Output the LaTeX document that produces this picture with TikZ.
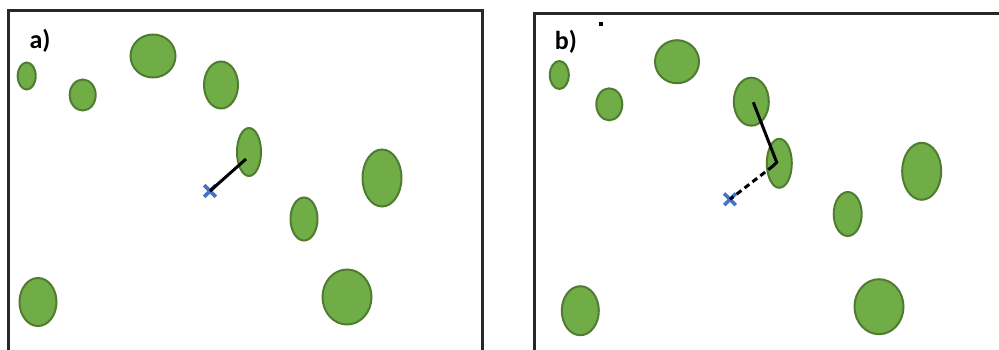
\documentclass[tikz,border=0pt]{standalone}
\usepackage{fontspec}
\setmainfont{Carlito}
\usetikzlibrary{shapes.geometric,shapes.misc}
\definecolor{leaf}{RGB}{112,173,71}
\definecolor{leafedge}{RGB}{80,124,50}
\definecolor{mark}{RGB}{68,114,196}
\definecolor{frame}{RGB}{40,40,40}
\tikzset{
  blob/.style={ellipse, draw=leafedge, fill=leaf, line width=2pt, inner sep=0pt},
  xmark/.style={cross out, draw=mark, line width=3.6pt, minimum size=8pt, inner sep=0pt},
  panelframe/.style={draw=frame, line width=3pt},
  tag/.style={font=\bfseries\fontsize{26}{28}\selectfont, inner sep=0pt},
  link/.style={line width=3pt, black}
}
\begin{document}
\begin{tikzpicture}[x=1pt, y=-1pt]
\useasboundingbox (0,0) rectangle (999,349);
\fill[white] (0,0) rectangle (999,349);

% panel frames
\draw[panelframe] (8,350) -- (8,10) -- (482.5,10) -- (482.5,350);
\draw[panelframe] (534,350) -- (534,13) -- (1000,13);

% panel a
\node[tag] (ta) at (40,41) {a)};
\node[blob, minimum width=18pt, minimum height=27pt] (a1) at (26.7,76) {};
\node[blob, minimum width=26pt, minimum height=31pt] (a2) at (82.7,95) {};
\node[blob, minimum width=45pt, minimum height=43pt] (a3) at (153,56) {};
\node[blob, minimum width=34pt, minimum height=47pt] (a4) at (221,85) {};
\node[blob, minimum width=24pt, minimum height=48pt] (a5) at (249,152) {};
\node[blob, minimum width=39pt, minimum height=57pt] (a6) at (382,178) {};
\node[blob, minimum width=27pt, minimum height=43pt] (a7) at (304,219) {};
\node[blob, minimum width=37pt, minimum height=48pt] (a8) at (38,302) {};
\node[blob, minimum width=49pt, minimum height=55pt] (a9) at (347,297) {};
\node[xmark] (xa) at (210,191) {};
\coordinate (pa) at (246,159);
\draw[link] (xa.center) -- (pa);

% panel b
\node[tag] (tb) at (566,42) {b)};
\fill (599,22) rectangle ++(3.5,3.5);
\node[blob, minimum width=19pt, minimum height=28pt] (b1) at (559.3,75) {};
\node[blob, minimum width=26pt, minimum height=32pt] (b2) at (609.3,104.3) {};
\node[blob, minimum width=44pt, minimum height=43pt] (b3) at (677,61.7) {};
\node[blob, minimum width=35pt, minimum height=48pt] (b4) at (751.3,101.7) {};
\node[blob, minimum width=25pt, minimum height=49pt] (b5) at (779.3,163.3) {};
\node[blob, minimum width=39pt, minimum height=57pt] (b6) at (921.7,171.3) {};
\node[blob, minimum width=28pt, minimum height=44pt] (b7) at (847.7,214) {};
\node[blob, minimum width=37pt, minimum height=49pt] (b8) at (580.3,310.7) {};
\node[blob, minimum width=49pt, minimum height=55pt] (b9) at (879,306.7) {};
\node[xmark] (xb) at (730,199.3) {};
\coordinate (pb1) at (753.3,102.3);
\coordinate (pb2) at (776.7,162.3);
\coordinate (pb3) at (773,166);
\draw[link] (pb1) -- (pb2) -- (pb3);
\draw[link, dashed, dash pattern=on 6pt off 4pt] (pb3) -- (xb.center);
\end{tikzpicture}
\end{document}
